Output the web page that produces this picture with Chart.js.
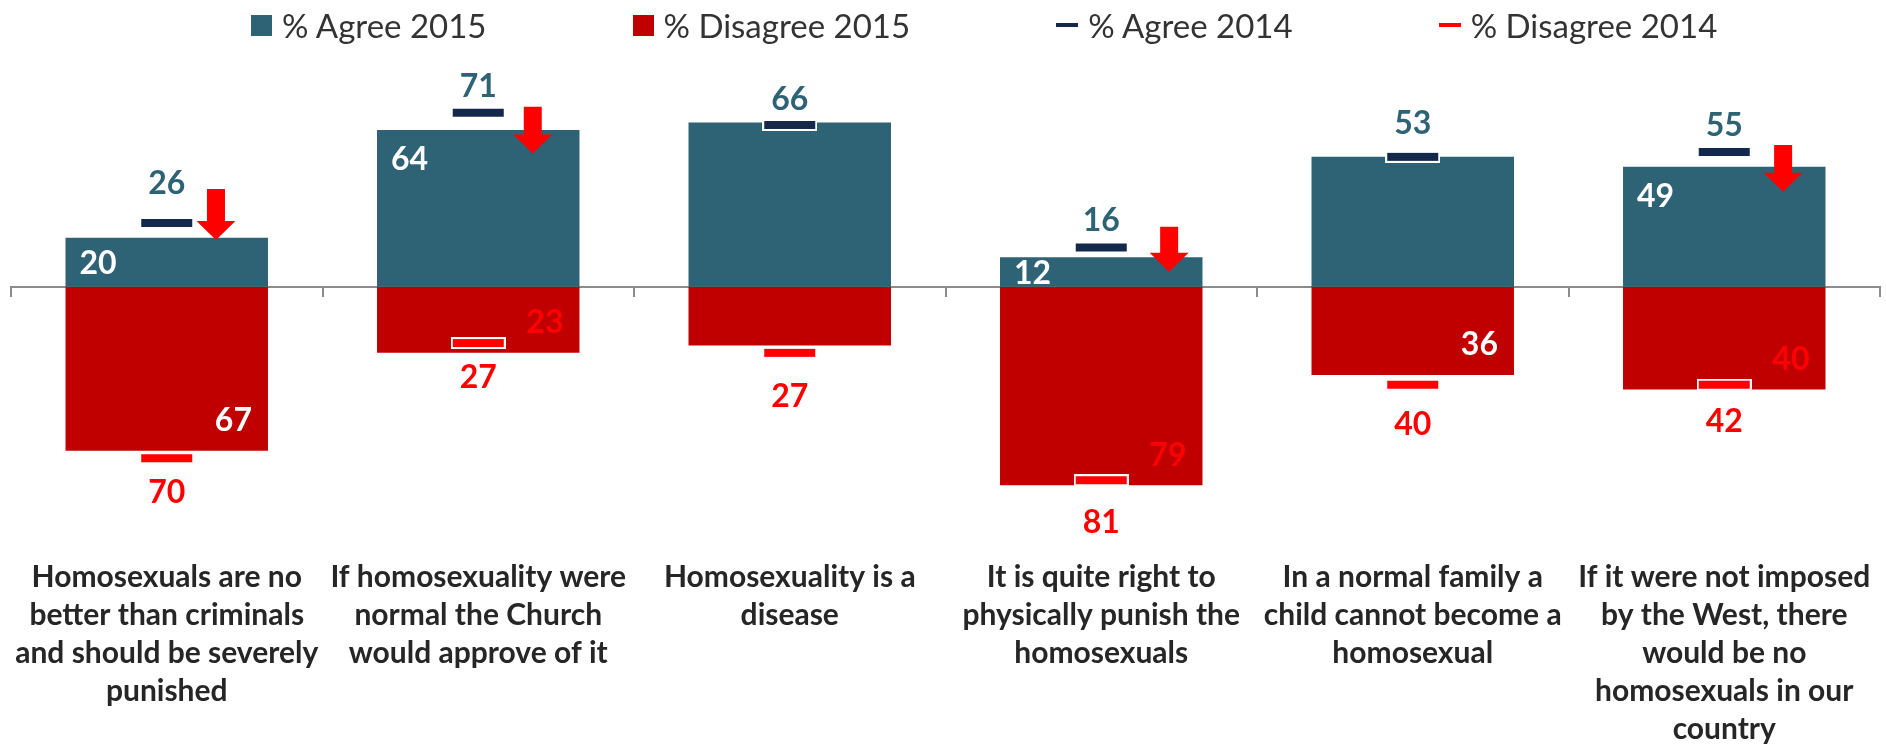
<!DOCTYPE html>
<html>
<head>
<meta charset="utf-8">
<script src="https://cdn.jsdelivr.net/npm/chart.js@4.4.1/dist/chart.umd.min.js"></script>
<style>
  html, body { margin: 0; padding: 0; background: #ffffff; overflow: hidden; }
  #wrap { position: relative; width: 1886px; height: 744px; }
  #c { position: absolute; left: 0; top: 0; }
  #legend { position: absolute; left: 251px; top: 0; height: 50px; display: flex; align-items: center;
            font-family: Lato, "Open Sans", sans-serif; font-size: 33px; color: #333333; white-space: nowrap; }
  .item { display: flex; align-items: center; }
  .item + .item { margin-left: 146px; }
  .sq { width: 21px; height: 21px; display: inline-block; }
  .dash { width: 22px; height: 4px; display: inline-block; }
  .lt { margin-left: 10px; line-height: 1; }
</style>
</head>
<body>
<div id="wrap">
  <canvas id="c" width="1886" height="744"></canvas>
  <div id="legend"></div>
</div>
<script>
// ---------- DATA ----------
const categories = [
  ["Homosexuals are no", "better than criminals", "and should be severely", "punished"],
  ["If homosexuality were", "normal the Church", "would approve of it"],
  ["Homosexuality is a", "disease"],
  ["It is quite right to", "physically punish the", "homosexuals"],
  ["In a normal family a", "child cannot become a", "homosexual"],
  ["If it were not imposed", "by the West, there", "would be no", "homosexuals in our", "country"]
];
const agree2015    = [20, 64, 67, 12, 53, 49];
const disagree2015 = [67, 27, 24, 81, 36, 42];
const agree2014    = [26, 71, 66, 16, 53, 55];
const disagree2014 = [70, 23, 27, 79, 40, 40];

// text labels as printed on the chart
const topLabels           = ["26", "71", "66", "16", "53", "55"];
const agreeInnerLabels    = ["20", "64", "",   "12", "",   "49"];
const disagreeInnerLabels = ["67", "23", "",   "79", "36", "40"];
const bottomLabels        = ["70", "27", "27", "81", "40", "42"];

// ---------- ANNOTATION PLACEMENT (value units) ----------
const topLabelAt    = [42.7, 82, 76.9, 27.4, 67.1, 66.3];
const bottomLabelAt = [-83.6, -36.6, -44.5, -95.9, -56, -54.4];
const arrowCat   = [0, 1, 3, 5];
const arrowShift = [0.158, 0.175, 0.218, 0.189];
const arrowFrom  = [39.9, 73.5, 24.5, 57.8];
const arrowTo    = [19.1, 54.4, 6.1, 38.8];

// ---------- STYLE ----------
const TEAL = "#2E6275", DARKRED = "#C00000", NAVY = "#14284B", RED = "#FF0000";
const GRAY = "#8C8C8C", TEXT = "#262626";
const FONT = "Lato, 'Open Sans', sans-serif";

function markerImage(color) {
  const cv = document.createElement("canvas");
  cv.width = 55; cv.height = 12;
  const g = cv.getContext("2d");
  g.fillStyle = "#ffffff"; g.fillRect(0, 0, 55, 12);
  g.fillStyle = color; g.fillRect(2, 2, 51, 8);
  return cv;
}

const annotPlugin = {
  id: "annot",
  afterDatasetsDraw(chart) {
    const { ctx, scales: { x, y } } = chart;
    const aMeta = chart.getDatasetMeta(0), dMeta = chart.getDatasetMeta(1);
    const cw = x.getPixelForValue(1) - x.getPixelForValue(0);
    ctx.save();
    // arrows
    arrowCat.forEach((c, k) => {
      const cx = x.getPixelForValue(c) + arrowShift[k] * cw;
      const yTop = y.getPixelForValue(arrowFrom[k]);
      const yTip = y.getPixelForValue(arrowTo[k]);
      const headH = 19, sw = 9, hw = 19.5;
      ctx.beginPath();
      ctx.moveTo(cx - sw, yTop); ctx.lineTo(cx + sw, yTop);
      ctx.lineTo(cx + sw, yTip - headH); ctx.lineTo(cx + hw, yTip - headH);
      ctx.lineTo(cx, yTip); ctx.lineTo(cx - hw, yTip - headH);
      ctx.lineTo(cx - sw, yTip - headH); ctx.closePath();
      ctx.fillStyle = RED; ctx.fill();
    });
    // value labels
    ctx.font = "bold 32px " + FONT;
    ctx.textBaseline = "alphabetic";
    const capHalf = 0.36 * 32;
    categories.forEach((_, i) => {
      const cx = x.getPixelForValue(i);
      const ab = aMeta.data[i], db = dMeta.data[i];
      ctx.textAlign = "center"; ctx.fillStyle = TEAL;
      ctx.fillText(topLabels[i], cx, y.getPixelForValue(topLabelAt[i]) + capHalf);
      ctx.fillStyle = RED;
      ctx.fillText(bottomLabels[i], cx, y.getPixelForValue(bottomLabelAt[i]) + capHalf);
      if (agreeInnerLabels[i]) {
        const left = ab.x - ab.width / 2;
        const cy = Math.min(ab.y + 29, (ab.y + ab.base) / 2);
        ctx.textAlign = "left"; ctx.fillStyle = "#ffffff";
        ctx.fillText(agreeInnerLabels[i], left + 14, cy + capHalf);
      }
      if (disagreeInnerLabels[i]) {
        const right = db.x + db.width / 2;
        const cy = Math.max(db.y - 31, (db.y + db.base) / 2);
        ctx.textAlign = "right";
        ctx.fillStyle = Number(disagreeInnerLabels[i]) === disagree2015[i] ? "#ffffff" : RED;
        ctx.fillText(disagreeInnerLabels[i], right - 16, cy + capHalf);
      }
    });
    ctx.restore();
  }
};

const chart = new Chart(document.getElementById("c"), {
  data: {
    labels: categories,
    datasets: [
      { type: "bar", label: "% Agree 2015", data: agree2015, backgroundColor: TEAL,
        borderWidth: 0, categoryPercentage: 1, barPercentage: 0.65, order: 1 },
      { type: "bar", label: "% Disagree 2015", data: disagree2015.map(v => -v), backgroundColor: DARKRED,
        borderWidth: 0, categoryPercentage: 1, barPercentage: 0.65, order: 1 },
      { type: "line", label: "% Agree 2014", data: agree2014, showLine: false,
        pointStyle: markerImage(NAVY), pointRadius: 5, pointHoverRadius: 5,
        backgroundColor: NAVY, borderColor: NAVY, order: 0 },
      { type: "line", label: "% Disagree 2014", data: disagree2014.map(v => -v), showLine: false,
        pointStyle: markerImage(RED), pointRadius: 5, pointHoverRadius: 5,
        backgroundColor: RED, borderColor: RED, order: 0 }
    ]
  },
  options: {
    responsive: false,
    animation: false,
    devicePixelRatio: 1,
    layout: { padding: { left: 11, right: 0, top: 41.7, bottom: 212.3 } },
    plugins: { legend: { display: false }, tooltip: { enabled: false } },
    scales: {
      y: { min: -100, max: 100, stacked: false, display: false },
      x: {
        stacked: true,
        position: { y: 0 },
        offset: true,
        border: { display: false },
        grid: { display: true, offset: true, drawOnChartArea: false, drawTicks: true,
                tickLength: 272, color: "rgba(0,0,0,0)" },
        ticks: { autoSkip: false, maxRotation: 0, minRotation: 0, padding: 0,
                 color: TEXT, font: { family: FONT, size: 30, weight: "bold", lineHeight: "38px" } }
      },
      x2: {
        type: "category",
        position: { y: 0 },
        offset: true,
        border: { display: true, color: GRAY, width: 2 },
        grid: { display: true, offset: true, drawOnChartArea: false, drawTicks: true,
                tickLength: 9, color: GRAY, lineWidth: 2 },
        ticks: { display: false }
      }
    }
  },
  plugins: [annotPlugin]
});

// legend built from the chart's datasets
const legend = document.getElementById("legend");
chart.data.datasets.forEach(ds => {
  const item = document.createElement("div"); item.className = "item";
  const sw = document.createElement("span");
  sw.className = ds.type === "bar" ? "sq" : "dash";
  sw.style.background = ds.backgroundColor;
  const t = document.createElement("span"); t.className = "lt"; t.textContent = ds.label;
  item.appendChild(sw); item.appendChild(t); legend.appendChild(item);
});
</script>
</body>
</html>
